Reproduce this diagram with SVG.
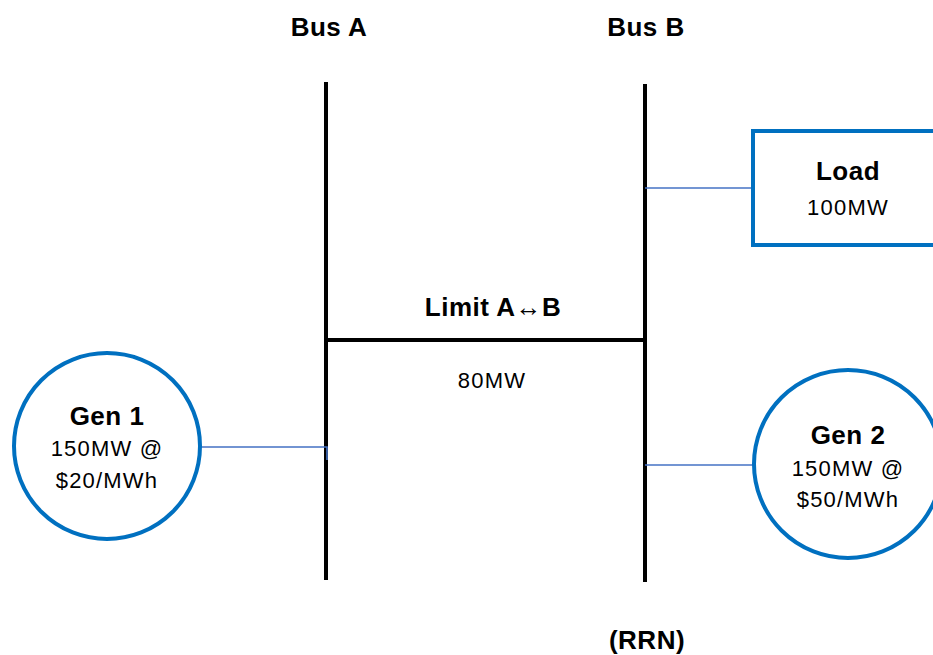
<svg xmlns="http://www.w3.org/2000/svg" width="933" height="655" viewBox="0 0 933 655">
<style>
.bus{stroke:#000;stroke-width:4;fill:none}
.node{stroke:#0070C0;stroke-width:4;fill:#fff}
.conn{stroke:#4472C4;stroke-width:1.6;fill:none}
.t{font-family:"Liberation Sans",Arial,sans-serif;text-anchor:middle;fill:#000}
.b{font-weight:bold;font-size:26px;letter-spacing:0.5px}
.n{font-size:22px;letter-spacing:1.2px}
</style>
<rect width="933" height="655" fill="#fff"/>
<g id="bus-a"><line class="bus" x1="326" y1="82" x2="326" y2="580"/><text class="t b" x="329" y="36">Bus A</text></g>
<g id="bus-b"><line class="bus" x1="645" y1="84" x2="645" y2="582"/><text class="t b" x="646" y="36">Bus B</text><text class="t b" x="647" y="649">(RRN)</text></g>
<g id="limit"><line class="bus" x1="326" y1="340" x2="645" y2="340"/><text class="t b" x="493" y="316">Limit A↔B</text><text class="t n" x="492" y="388">80MW</text></g>
<g id="connectors">
<polyline class="conn" points="201,447 327,447 327,460"/>
<line class="conn" x1="645" y1="188" x2="753" y2="188"/>
<line class="conn" x1="645" y1="465" x2="753" y2="465"/>
</g>
<g id="gen1"><circle class="node" cx="107" cy="446" r="93"/><text class="t b" x="107" y="425">Gen 1</text><text class="t n" x="107" y="456">150MW @</text><text class="t n" x="107" y="488">$20/MWh</text></g>
<g id="load"><rect class="node" x="753" y="131" width="190" height="114"/><text class="t b" x="848" y="180">Load</text><text class="t n" x="848" y="215">100MW</text></g>
<g id="gen2"><circle class="node" cx="848" cy="464" r="94"/><text class="t b" x="848" y="444">Gen 2</text><text class="t n" x="848" y="476">150MW @</text><text class="t n" x="848" y="507">$50/MWh</text></g>
</svg>
